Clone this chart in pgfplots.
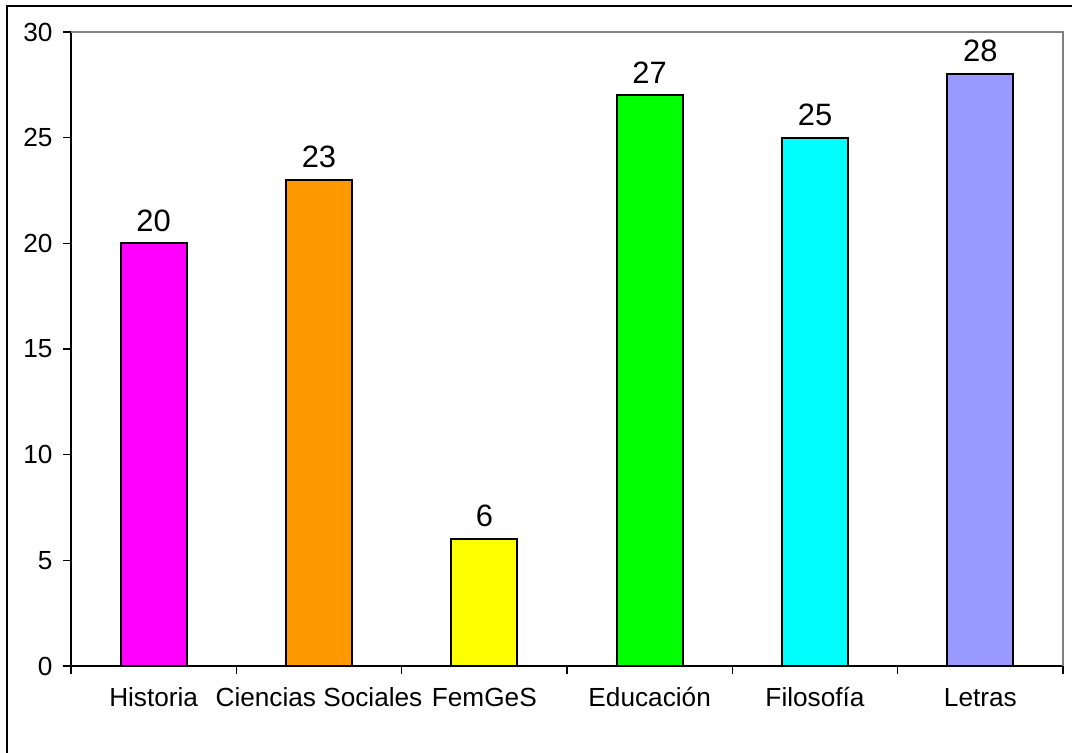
\documentclass[border=0pt]{standalone}
\usepackage{pgfplots}
\pgfplotsset{compat=1.18}
\usepackage{fontspec}
\setmainfont{Liberation Sans}
\definecolor{cHist}{HTML}{FF00FF}
\definecolor{cCien}{HTML}{FF9900}
\definecolor{cFem}{HTML}{FFFF00}
\definecolor{cEdu}{HTML}{00FF00}
\definecolor{cFil}{HTML}{00FFFF}
\definecolor{cLet}{HTML}{9999FF}
\definecolor{frameGray}{HTML}{808080}
\newcommand{\chartfont}{\fontsize{26.3}{31}\selectfont}
\newcommand{\labelfont}{\fontsize{31}{36}\selectfont}
\begin{document}
\begin{tikzpicture}
\useasboundingbox (0,0) rectangle (1072bp,753bp);
\draw[line width=2.2bp,black] (7bp,0) -- (7bp,747bp) -- (1072bp,747bp);
\begin{axis}[
  at={(71bp,87bp)}, anchor=south west,
  width=992bp, height=634bp, scale only axis,
  xmin=-0.5, xmax=5.5, ymin=0, ymax=30,
  ytick={0,5,...,30},
  xtick={0,1,2,3,4,5},
  xticklabels={Historia,Ciencias Sociales,FemGeS,Educación,Filosofía,Letras},
  major x tick style={draw=none},
  minor xtick={-0.5,0.5,1.5,2.5,3.5,4.5,5.5},
  tick align=outside,
  major tick length=8bp, minor tick length=8bp,
  every tick/.style={black, line width=1.6bp},
  axis x line*=bottom, axis y line*=left,
  axis line style={line width=1.8bp, black, -},
  /pgf/number format/assume math mode=true,
  ticklabel style={font=\chartfont},
  xticklabel style={anchor=north, text height=18bp, text depth=5bp, yshift=-11bp},
  yticklabel style={xshift=-7bp},
  ybar, bar width=0.4, bar shift=0,
  point meta=explicit symbolic,
  nodes near coords={\labelfont\pgfplotspointmeta},
  every node near coord/.append style={anchor=south, inner sep=0pt, yshift=11bp},
  every axis plot/.append style={draw=black, line width=2bp},
  clip=false,
]
\addplot[fill=cHist] coordinates {(0,20) [20]};
\addplot[fill=cCien] coordinates {(1,23) [23]};
\addplot[fill=cFem] coordinates {(2,6) [6]};
\addplot[fill=cEdu] coordinates {(3,27) [27]};
\addplot[fill=cFil] coordinates {(4,25) [25]};
\addplot[fill=cLet] coordinates {(5,28) [28]};
\draw[frameGray, line width=2.2bp] (rel axis cs:0,1) -- (rel axis cs:1,1) -- (rel axis cs:1,0);
\end{axis}
\end{tikzpicture}
\end{document}
